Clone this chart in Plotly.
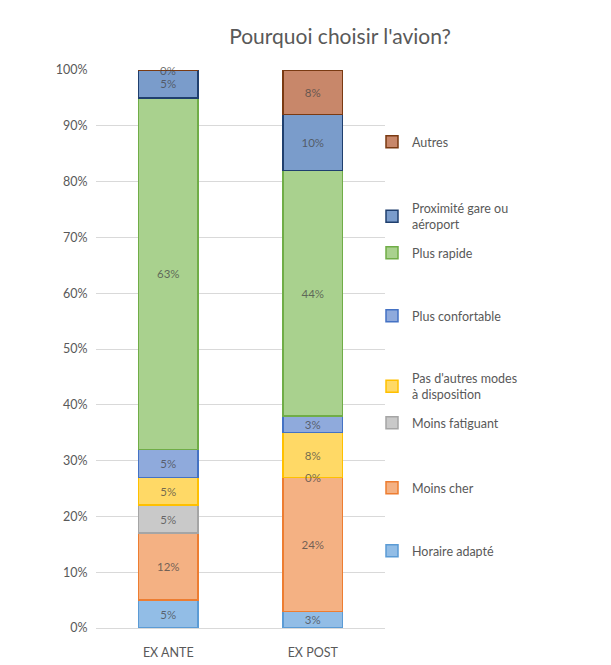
import plotly.graph_objects as go

# ---- data ----
categories = ["EX ANTE", "EX POST"]
series_names = [
    "Horaire adapté",
    "Moins cher",
    "Moins fatiguant",
    "Pas d'autres modes<br>à disposition",
    "Plus confortable",
    "Plus rapide",
    "Proximité gare ou<br>aéroport",
    "Autres",
]
horaire_adapte = [5, 3]
moins_cher = [12, 24]
moins_fatiguant = [5, 0]
pas_autres_modes = [5, 8]
plus_confortable = [5, 3]
plus_rapide = [63, 44]
proximite_gare = [5, 10]
autres = [0, 8]
series_values = [horaire_adapte, moins_cher, moins_fatiguant, pas_autres_modes,
                 plus_confortable, plus_rapide, proximite_gare, autres]
y_ticks = [0, 10, 20, 30, 40, 50, 60, 70, 80, 90, 100]

# ---- styles ----
fills = ["#92BDE6", "#F4B183", "#C9C9C9", "#FFD966",
         "#8FAADC", "#A9D18E", "#7A9CCB", "#C8876A"]
edges = ["#5B9BD5", "#ED7D31", "#A5A5A5", "#FFC000",
         "#4472C4", "#70AD47", "#1F3F6E", "#7A3A12"]

OFF = 8  # default page margin of the html body
# legend vertical centres (pixels from top of the window)
legend_px = [551, 488, 423, 386.5, 316, 253, 216.5, 142]

W, H = 611 - OFF, 665 - OFF
L, T = 96 - OFF, 70 - OFF
plot_w = 385 - 96
plot_h = 628 - 70
R = W - L - plot_w
B = H - T - plot_h
FONT = "Lato"
GREY = "#595959"
LABEL = "rgba(70,70,70,0.75)"

fig = go.Figure()
layout_legends = {}
for i, (name, vals) in enumerate(zip(series_names, series_values)):
    lname = "legend" if i == 0 else f"legend{i+1}"
    fig.add_trace(go.Bar(
        x=categories, y=vals, name=name,
        marker=dict(color=fills[i], line=dict(color=edges[i], width=1.5)),
        text=[f"{v}%" for v in vals],
        textposition="inside", insidetextanchor="middle",
        textfont=dict(family=FONT, size=11.5, color=LABEL),
        legend=lname,
        hoverinfo="skip",
    ))
    layout_legends[lname] = dict(
        x=(372 - 96) / plot_w,
        y=(628 - legend_px[i]) / plot_h,
        xanchor="left", yanchor="middle",
        bgcolor="rgba(0,0,0,0)",
        font=dict(family=FONT, size=12.5, color=GREY),
    )

# zero-height segments: plotly hides their inside text, so label them at the stack level
annotations = []
for j, cat in enumerate(categories):
    cum = 0
    for vals in series_values:
        if vals[j] == 0:
            annotations.append(dict(
                x=cat, y=cum, xref="x", yref="y", text=f"{vals[j]}%",
                showarrow=False, font=dict(family=FONT, size=11.5, color=LABEL),
            ))
        cum += vals[j]

fig.update_layout(
    width=W, height=H,
    margin=dict(l=L, r=R, t=T, b=B, autoexpand=False),
    barmode="stack",
    bargap=0.585,
    paper_bgcolor="white",
    plot_bgcolor="white",
    showlegend=True,
    uniformtext=dict(minsize=11, mode="show"),
    annotations=annotations,
    title=dict(
        text="Pourquoi choisir l'avion?",
        x=(340 - OFF) / W, xanchor="center",
        y=1 - (37 - OFF) / H, yanchor="middle",
        font=dict(family=FONT, size=21, color=GREY),
    ),
    font=dict(family=FONT, size=12, color=GREY),
    **layout_legends,
)
fig.update_yaxes(
    range=[0, 100],
    tickvals=y_ticks,
    ticktext=[f"{t}%" for t in y_ticks],
    showgrid=True, gridcolor="#D9D9D9", gridwidth=1,
    zeroline=False, showline=False,
    ticks="outside", ticklen=5, tickcolor="rgba(0,0,0,0)",
    tickfont=dict(family=FONT, size=12.5, color=GREY),
    automargin=False,
    fixedrange=True,
)
fig.update_xaxes(
    showline=True, linecolor="#D9D9D9", linewidth=1,
    ticks="outside", ticklen=13, tickcolor="rgba(0,0,0,0)",
    tickfont=dict(family=FONT, size=12.5, color=GREY),
    automargin=False,
    fixedrange=True,
)

fig.write_html("out.html")
